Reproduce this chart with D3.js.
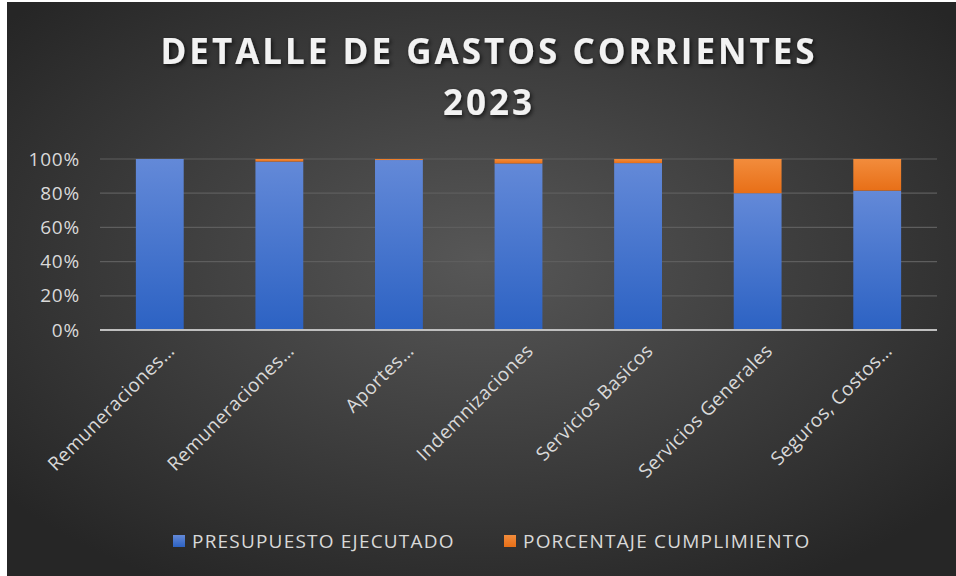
<!DOCTYPE html>
<html>
<head>
<meta charset="utf-8">
<script src="https://cdn.jsdelivr.net/npm/d3@7"></script>
<style>
  html, body { margin: 0; padding: 0; background: #ffffff; }
  svg { display: block; }
</style>
</head>
<body>
<div id="chart"></div>
<script>
// data
const categories = ["Remuneraciones…", "Remuneraciones…", "Aportes…", "Indemnizaciones",
    "Servicios Basicos", "Servicios Generales", "Seguros, Costos…"];
const ejecutado = [100, 98.5, 99.4, 97.4, 97.6, 80, 81.5];
const cumplimiento = [0, 1.5, 0.6, 2.6, 2.4, 20, 18.5];
const seriesNames = ["PRESUPUESTO EJECUTADO", "PORCENTAJE CUMPLIMIENTO"];
const yTicks = [0, 0.2, 0.4, 0.6, 0.8, 1];

const W = 956, H = 576;
const margin = { top: 159, right: 19, bottom: 246, left: 100 },
    width = W - margin.left - margin.right,
    height = H - margin.top - margin.bottom;
const font = "'Open Sans', sans-serif";
const textColor = "#d9d9d9";

const svg = d3.select("#chart").append("svg")
    .attr("width", W)
    .attr("height", H);

const defs = svg.append("defs");
const bg = defs.append("radialGradient").attr("id", "bg")
    .attr("cx", "50%").attr("cy", "45%").attr("r", "65%");
bg.append("stop").attr("offset", "0%").attr("stop-color", "#575757");
bg.append("stop").attr("offset", "100%").attr("stop-color", "#262626");

const gBlue = defs.append("linearGradient").attr("id", "gBlue")
    .attr("x1", 0).attr("y1", 0).attr("x2", 0).attr("y2", 1);
gBlue.append("stop").attr("offset", "0%").attr("stop-color", "#6389d8");
gBlue.append("stop").attr("offset", "100%").attr("stop-color", "#2c62c3");
const gOrange = defs.append("linearGradient").attr("id", "gOrange")
    .attr("x1", 0).attr("y1", 0).attr("x2", 0).attr("y2", 1);
gOrange.append("stop").attr("offset", "0%").attr("stop-color", "#f28c3c");
gOrange.append("stop").attr("offset", "100%").attr("stop-color", "#e86f17");

const shadow = defs.append("filter").attr("id", "shadow")
    .attr("x", "-20%").attr("y", "-20%").attr("width", "140%").attr("height", "140%");
shadow.append("feDropShadow").attr("dx", 1.5).attr("dy", 2).attr("stdDeviation", 2)
    .attr("flood-color", "#000").attr("flood-opacity", 0.7);

svg.append("rect").attr("x", 7).attr("y", 2)
    .attr("width", W - 7).attr("height", H - 2)
    .attr("fill", "url(#bg)");

// title
const title = svg.append("text")
    .attr("x", 489).attr("y", 64)
    .attr("text-anchor", "middle")
    .attr("fill", "#f2f2f2")
    .attr("font-family", font)
    .attr("font-weight", "bold")
    .attr("font-size", 35)
    .attr("letter-spacing", 3)
    .attr("filter", "url(#shadow)");
title.append("tspan").attr("x", 489).text("DETALLE DE GASTOS CORRIENTES");
title.append("tspan").attr("x", 489).attr("dy", 51).text("2023");

const g = svg.append("g")
    .attr("transform", "translate(" + margin.left + "," + margin.top + ")");

const x = d3.scaleBand().domain(d3.range(categories.length))
    .range([0, width]).paddingInner(0.6).paddingOuter(0.3);
const y = d3.scaleLinear().domain([0, 1]).range([height, 0]);

// grid
g.selectAll(".grid").data(yTicks.slice(1)).enter().append("line")
    .attr("x1", 0).attr("x2", width)
    .attr("y1", d => y(d)).attr("y2", d => y(d))
    .attr("stroke", "#5e5e5e").attr("stroke-width", 1.2);

// stacked 100% bars
const rows = categories.map((c, i) => ({ i: i, a: ejecutado[i], b: cumplimiento[i] }));
const stack = d3.stack().keys(["a", "b"]).offset(d3.stackOffsetExpand);
const series = stack(rows);
const fills = ["url(#gBlue)", "url(#gOrange)"];

g.selectAll(".series").data(series).enter().append("g")
    .attr("fill", (d, k) => fills[k])
    .selectAll("rect").data(d => d).enter().append("rect")
    .attr("x", d => x(d.data.i))
    .attr("width", x.bandwidth())
    .attr("y", d => y(d[1]))
    .attr("height", d => Math.max(0, y(d[0]) - y(d[1])));

// axes
const yAxis = d3.axisLeft(y).tickValues(yTicks).tickFormat(d3.format(".0%")).tickSize(0).tickPadding(20);
g.append("g").call(yAxis)
    .call(a => a.select(".domain").remove())
    .selectAll("text")
    .attr("fill", textColor)
    .attr("font-family", font)
    .attr("font-size", 19)
    .attr("letter-spacing", 0.8);

g.append("line")
    .attr("x1", 0).attr("x2", width)
    .attr("y1", height).attr("y2", height)
    .attr("stroke", "#bfbfbf").attr("stroke-width", 2);

g.selectAll(".xlab").data(categories).enter().append("text")
    .attr("transform", (d, i) => "translate(" + (x(i) + x.bandwidth() / 2 + 16) + "," + (height + 22) + ") rotate(-45)")
    .attr("text-anchor", "end")
    .attr("fill", textColor)
    .attr("font-family", font)
    .attr("font-size", 19)
    .attr("letter-spacing", 0.4)
    .text(d => d);

// legend
const legendX = [173, 504];
const leg = svg.selectAll(".legend").data(seriesNames).enter().append("g")
    .attr("transform", (d, k) => "translate(" + legendX[k] + ",541)");
leg.append("rect").attr("x", 0).attr("y", -6).attr("width", 12).attr("height", 12)
    .attr("fill", (d, k) => fills[k]);
leg.append("text").attr("x", 19).attr("dy", "0.36em")
    .attr("fill", textColor)
    .attr("font-family", font)
    .attr("font-size", 19)
    .attr("letter-spacing", 1.2)
    .text(d => d);
</script>
</body>
</html>
